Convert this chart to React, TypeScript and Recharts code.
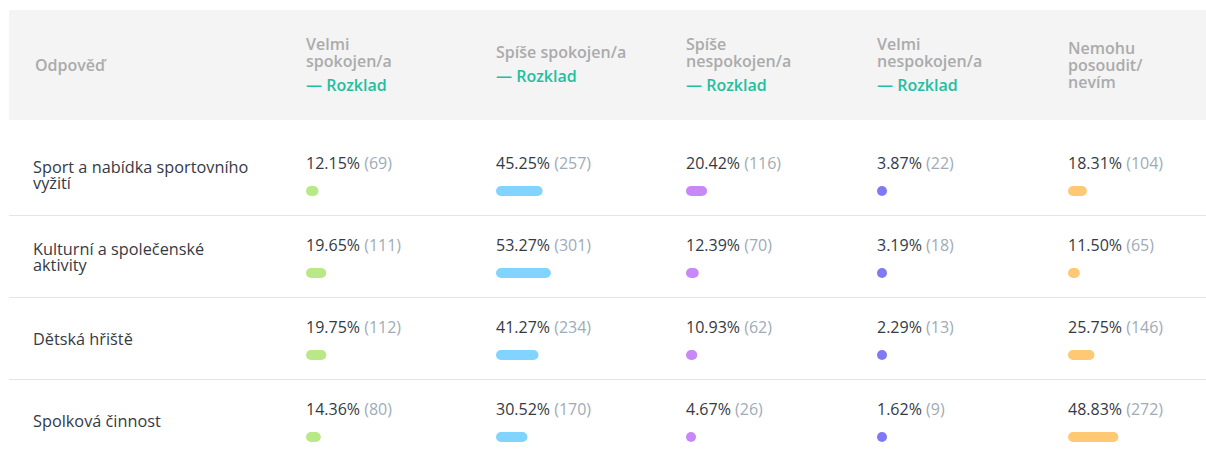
import React from 'react';
import { BarChart, Bar, XAxis, YAxis, LabelList } from 'recharts';

// rows of the table (line breaks as in the original)
const answers = [
  'Sport a nabídka sportovního\nvyžití',
  'Kulturní a společenské\naktivity',
  'Dětská hřiště',
  'Spolková činnost',
];

// column headers (already split into lines like in the original)
const headerLines = [
  ['Velmi', 'spokojen/a'],
  ['Spíše spokojen/a'],
  ['Spíše', 'nespokojen/a'],
  ['Velmi', 'nespokojen/a'],
  ['Nemohu', 'posoudit/', 'nevím'],
];
const hasBreakdown = [true, true, true, true, false];

// percentages and counts per column
const velmiSpokojenPct = [12.15, 19.65, 19.75, 14.36];
const velmiSpokojenN = [69, 111, 112, 80];
const spiseSpokojenPct = [45.25, 53.27, 41.27, 30.52];
const spiseSpokojenN = [257, 301, 234, 170];
const spiseNespokojenPct = [20.42, 12.39, 10.93, 4.67];
const spiseNespokojenN = [116, 70, 62, 26];
const velmiNespokojenPct = [3.87, 3.19, 2.29, 1.62];
const velmiNespokojenN = [22, 18, 13, 9];
const nevimPct = [18.31, 11.5, 25.75, 48.83];
const nevimN = [104, 65, 146, 272];

const colors = ['#b8e986', '#80d4ff', '#c888f8', '#8079f6', '#ffc872'];

const seriesPct = [velmiSpokojenPct, spiseSpokojenPct, spiseNespokojenPct, velmiNespokojenPct, nevimPct];
const seriesN = [velmiSpokojenN, spiseSpokojenN, spiseNespokojenN, velmiNespokojenN, nevimN];

const colLeft = [306, 496, 686, 877, 1068];
const FONT = "'Open Sans', sans-serif";
const ROW_TOP = 150; // top of the first row band in the charts
const BAND = 82;

const ValueLabel = (props: any) => {
  const { x, y, index, col } = props;
  const pct = seriesPct[col][index];
  const n = seriesN[col][index];
  return (
    <text x={x} y={y - 17} fontSize={16} fontFamily={FONT} textAnchor="start">
      <tspan fill="#343a45">{pct.toFixed(2)}%</tspan>
      <tspan fill="#a0abb8"> ({n})</tspan>
    </text>
  );
};

const ColumnChart = ({ col }: { col: number }) => {
  const data = answers.map((a, i) => ({ answer: a, value: seriesPct[col][i] }));
  return (
    <div style={{ position: 'absolute', left: colLeft[col], top: ROW_TOP }}>
      <BarChart
        width={203}
        height={BAND * answers.length}
        data={data}
        layout="vertical"
        margin={{ top: 0, right: 100, bottom: 0, left: 0 }}
      >
        <XAxis type="number" domain={[0, 100]} hide />
        <YAxis type="category" dataKey="answer" hide />
        <Bar
          dataKey="value"
          fill={colors[col]}
          barSize={10}
          radius={5}
          minPointSize={10}
          isAnimationActive={false}
        >
          <LabelList dataKey="value" content={(p: any) => <ValueLabel {...p} col={col} />} />
        </Bar>
      </BarChart>
    </div>
  );
};

const headerText: React.CSSProperties = {
  color: '#ababab',
  fontSize: 16,
  fontWeight: 600,
  lineHeight: '17px',
};

export default function App() {
  return (
    <div
      style={{
        position: 'fixed',
        left: 0,
        top: 0,
        width: 1206,
        height: 453,
        overflow: 'hidden',
        background: '#fff',
        fontFamily: FONT,
      }}
    >
      {/* header */}
      <div
        style={{
          position: 'absolute',
          left: 9,
          top: 10,
          width: 1197,
          height: 110,
          background: '#f4f4f4',
        }}
      />
      <div
        style={{
          position: 'absolute',
          left: 35,
          top: 10,
          height: 110,
          display: 'flex',
          alignItems: 'center',
          ...headerText,
        }}
      >
        Odpověď
      </div>
      {headerLines.map((lines, c) => (
        <div
          key={c}
          style={{
            position: 'absolute',
            left: colLeft[c],
            top: 10,
            height: 110,
            display: 'flex',
            flexDirection: 'column',
            justifyContent: 'center',
          }}
        >
          {lines.map((l) => (
            <div key={l} style={headerText}>
              {l}
            </div>
          ))}
          {hasBreakdown[c] && (
            <div style={{ color: '#1fbf9f', fontSize: 16, fontWeight: 600, lineHeight: '20px', marginTop: 5 }}>
              — Rozklad
            </div>
          )}
        </div>
      ))}

      {/* row labels and separators */}
      {answers.map((a, i) => {
        const center = ROW_TOP + BAND * i + BAND / 2;
        return (
          <React.Fragment key={a}>
            <div
              style={{
                position: 'absolute',
                left: 33,
                top: center - 16 - 30,
                height: 60,
                width: 250,
                display: 'flex',
                alignItems: 'center',
                whiteSpace: 'pre-line',
                color: '#353a44',
                fontSize: 16.3,
                lineHeight: '16px',
              }}
            >
              {a}
            </div>
            {i < answers.length - 1 && (
              <div
                style={{
                  position: 'absolute',
                  left: 9,
                  top: center + 24,
                  width: 1197,
                  height: 1,
                  background: '#e5e5e5',
                }}
              />
            )}
          </React.Fragment>
        );
      })}

      {seriesPct.map((_, c) => (
        <ColumnChart key={c} col={c} />
      ))}
    </div>
  );
}
